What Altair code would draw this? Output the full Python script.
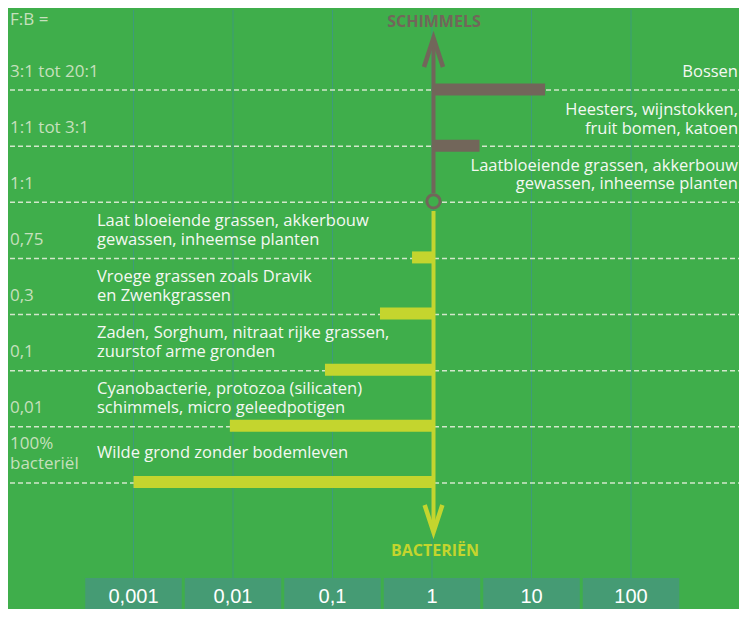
import altair as alt
import pandas as pd

# ---------------- data ----------------
ratio_labels = ["F:B =", "3:1 tot 20:1", "1:1 tot 3:1", "1:1", "0,75", "0,3", "0,1", "0,01", "100%", "bacteriël"]
ratio_rows = [-1.25, -0.32, 0.68, 1.67, 2.67, 3.67, 4.66, 5.66, 6.31, 6.67]

fungal_rows = [0, 1]
fungal_values = [13.7, 3.0]

bact_rows = [3, 4, 5, 6, 7]
bact_values = [0.63, 0.3, 0.084, 0.0093, 0.001]

right_text = ["Bossen", "Heesters, wijnstokken,", "fruit bomen, katoen",
              "Laatbloeiende grassen, akkerbouw", "gewassen, inheemse planten"]
right_rows = [-0.32, 0.355, 0.69, 1.355, 1.675]

left_text = ["Laat bloeiende grassen, akkerbouw", "gewassen, inheemse planten",
             "Vroege grassen zoals Dravik", "en Zwenkgrassen",
             "Zaden, Sorghum, nitraat rijke grassen,", "zuurstof arme gronden",
             "Cyanobacterie, protozoa (silicaten)", "schimmels, micro geleedpotigen",
             "Wilde grond zonder bodemleven"]
left_rows = [2.33, 2.67, 3.33, 3.67, 4.33, 4.67, 5.33, 5.67, 6.47]

tick_values = [0.001, 0.01, 0.1, 1, 10, 100]
tick_labels = ["0,001", "0,01", "0,1", "1", "10", "100"]

dash_rows = [0, 1, 2, 3, 4, 5, 6, 7]

# ---------------- style ----------------
BG = "#3fae4b"
GRID = "#3d9b7b"
BOX = "#459b74"
GRAY = "#72665a"
YELLOW = "#c4d52e"
DASH = "#d2e7cb"
PALE = "#c6e0bd"
WHITE = "#f4f8f2"
FONT = "Open Sans"

W, H = 731, 601
PX_PER_DEC = 99.5
X0 = 424  # pixel of value 1
X_LO = 10 ** (-X0 / PX_PER_DEC)
X_HI = 10 ** ((W - X0) / PX_PER_DEC)
ROW_PX = 56.14
Y0 = 82  # pixel of row 0
Y_LO = -Y0 / ROW_PX
Y_HI = (H - Y0) / ROW_PX

xs = alt.Scale(type="log", domain=[X_LO, X_HI], nice=False)
ys = alt.Scale(domain=[Y_LO, Y_HI], reverse=True, nice=False, zero=False)


def X(f):
    return alt.X(f, type="quantitative", scale=xs, axis=None)


def Y(f):
    return alt.Y(f, type="quantitative", scale=ys, axis=None)


def px2val(px):
    return 10 ** ((px - X0) / PX_PER_DEC)


def py2row(py):
    return (py - Y0) / ROW_PX


# grid lines
grid_df = pd.DataFrame({"x": tick_values, "y": py2row(2), "y2": py2row(570)})
grid = alt.Chart(grid_df).mark_rule(color=GRID, strokeWidth=1).encode(
    x=X("x"), y=Y("y"), y2="y2")

# bottom boxes
box_df = pd.DataFrame({
    "x": [v / 10 ** 0.5 for v in tick_values],
    "x2": [v * 10 ** 0.5 for v in tick_values],
    "y": py2row(570), "y2": Y_HI,
    "xc": tick_values, "label": tick_labels,
})
boxes = alt.Chart(box_df).mark_rect(color=BOX, xOffset=1.5, x2Offset=-1.5).encode(
    x=X("x"), x2="x2", y=Y("y"), y2="y2")
box_text = alt.Chart(box_df).mark_text(
    font="Liberation Sans", fontSize=20, color="#ffffff", baseline="middle", align="center"
).encode(x=X("xc"), y=alt.value(589), text="label")

# dashed lines
dash_df = pd.DataFrame({"y": dash_rows, "x": px2val(2), "x2": X_HI})
dashes = alt.Chart(dash_df).mark_rule(
    color=DASH, strokeWidth=1.5, strokeDash=[5, 3]
).encode(x=X("x"), x2="x2", y=Y("y"))

# bars
fung_df = pd.DataFrame({"y": fungal_rows, "x": fungal_values, "x2": 1})
fung = alt.Chart(fung_df).mark_rule(color=GRAY, strokeWidth=12, strokeCap="butt", yOffset=-0.5).encode(
    x=X("x"), x2="x2", y=Y("y"))
bact_df = pd.DataFrame({"y": bact_rows, "x": bact_values, "x2": 1})
bact = alt.Chart(bact_df).mark_rule(color=YELLOW, strokeWidth=12, strokeCap="butt", yOffset=-1).encode(
    x=X("x"), x2="x2", y=Y("y"))

# central axis
gline = alt.Chart(pd.DataFrame({"x": [1], "y": [py2row(32)], "y2": [py2row(185)]})).mark_rule(
    color=GRAY, strokeWidth=4, xOffset=1.5).encode(x=X("x"), y=Y("y"), y2="y2")
yline = alt.Chart(pd.DataFrame({"x": [1], "y": [py2row(203)], "y2": [py2row(522)]})).mark_rule(
    color=YELLOW, strokeWidth=4, xOffset=1.5).encode(x=X("x"), y=Y("y"), y2="y2")

up_arrow = alt.Chart(pd.DataFrame({"x": [1], "y": [py2row(44.5)]})).mark_point(
    shape="M-0.655,1L0,-1L0.655,1", size=841, filled=False, stroke=GRAY, strokeWidth=4.5,
    strokeJoin="miter", strokeCap="butt", opacity=1, xOffset=1.5
).encode(x=X("x"), y=Y("y"))
down_arrow = alt.Chart(pd.DataFrame({"x": [1], "y": [py2row(510.5)]})).mark_point(
    shape="M-0.655,-1L0,1L0.655,-1", size=729, filled=False, stroke=YELLOW, strokeWidth=4.5,
    strokeJoin="miter", strokeCap="butt", opacity=1, xOffset=1.5
).encode(x=X("x"), y=Y("y"))

circle = alt.Chart(pd.DataFrame({"x": [1], "y": [2]})).mark_point(
    shape="circle", size=177, filled=True, fill=BG, stroke=GRAY, strokeWidth=3, opacity=1,
    xOffset=1.5, yOffset=-1
).encode(x=X("x"), y=Y("y"))

# axis titles
schim = alt.Chart(pd.DataFrame({"x": [1], "y": [py2row(14)], "t": ["SCHIMMELS"]})).mark_text(
    font=FONT, fontSize=16, fontWeight="bold", color=GRAY, align="center", baseline="middle", dx=2
).encode(x=X("x"), y=Y("y"), text="t")
bact_t = alt.Chart(pd.DataFrame({"x": [1], "y": [py2row(543)], "t": ["BACTERIËN"]})).mark_text(
    font=FONT, fontSize=16, fontWeight="bold", color=YELLOW, align="center", baseline="middle", dx=3
).encode(x=X("x"), y=Y("y"), text="t")

# labels
ratio_df = pd.DataFrame({"t": ratio_labels, "y": ratio_rows, "x": px2val(2)})
ratio = alt.Chart(ratio_df).mark_text(
    font=FONT, fontSize=17, color=PALE, align="left", baseline="middle"
).encode(x=X("x"), y=Y("y"), text="t")

right_df = pd.DataFrame({"t": right_text, "y": right_rows, "x": px2val(730)})
right = alt.Chart(right_df).mark_text(
    font=FONT, fontSize=16.5, color=WHITE, align="right", baseline="middle"
).encode(x=X("x"), y=Y("y"), text="t")

left_df = pd.DataFrame({"t": left_text, "y": left_rows, "x": px2val(89)})
left = alt.Chart(left_df).mark_text(
    font=FONT, fontSize=16.5, color=WHITE, align="left", baseline="middle"
).encode(x=X("x"), y=Y("y"), text="t")

chart = alt.layer(
    grid, boxes, box_text, dashes, fung, bact, gline, yline, up_arrow, down_arrow, circle,
    schim, bact_t, ratio, right, left
).properties(
    width=W, height=H, padding=0, background=BG,
    autosize=alt.AutoSizeParams(type="none")
).configure_view(stroke=None, fill=BG)

chart.save("out.html", embed_options={"renderer": "svg", "actions": False})
